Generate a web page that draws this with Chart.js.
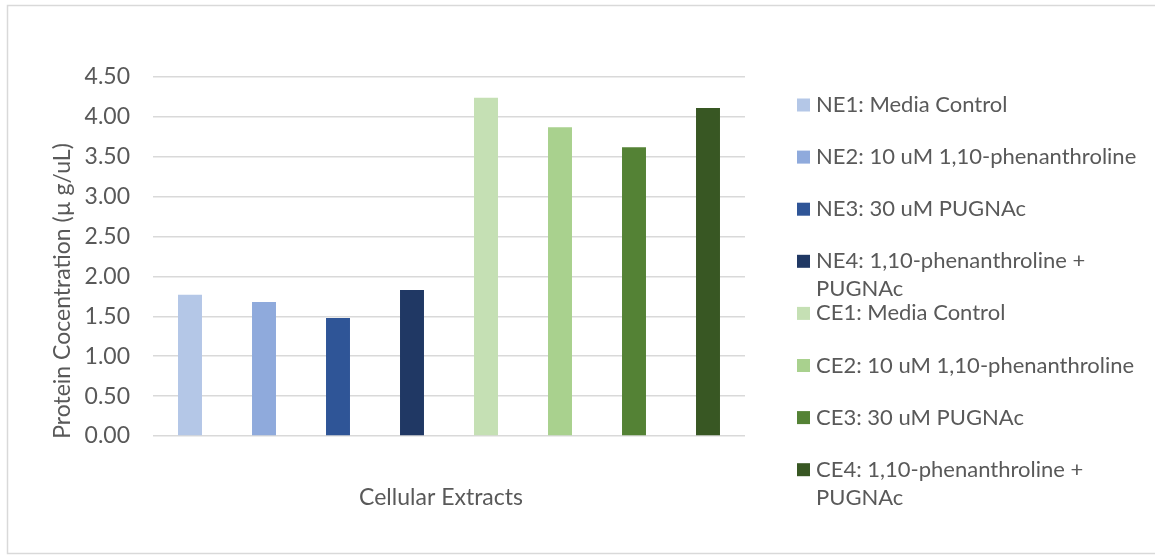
<!DOCTYPE html>
<html>
<head>
<meta charset="utf-8">
<title>Protein Concentration of Cellular Extracts</title>
<script src="https://cdn.jsdelivr.net/npm/chart.js@4.4.1/dist/chart.umd.min.js"></script>
<style>
  html, body { margin: 0; padding: 0; background: #ffffff; }
  #wrap { position: relative; width: 1155px; height: 555px; }
</style>
</head>
<body>
<div id="wrap"><canvas id="chart" width="1155" height="555"></canvas></div>
<script>
// Category and series
const categories = [''];
const seriesLabels = [
  'NE1: Media Control',
  'NE2: 10 uM 1,10-phenanthroline',
  'NE3: 30 uM PUGNAc',
  'NE4: 1,10-phenanthroline + PUGNAc',
  'CE1: Media Control',
  'CE2: 10 uM 1,10-phenanthroline',
  'CE3: 30 uM PUGNAc',
  'CE4: 1,10-phenanthroline + PUGNAc'
];
const seriesValues = [1.77, 1.68, 1.48, 1.83, 4.24, 3.87, 3.62, 4.11];
const seriesColors = ['#B4C7E7', '#8FAADC', '#2F5597', '#203864',
                      '#C5E0B4', '#A9D18E', '#548235', '#385723'];
const yTicks = [0, 0.5, 1, 1.5, 2, 2.5, 3, 3.5, 4, 4.5];
const yTitle = 'Protein Cocentration (\u00B5 g/uL)';
const xTitle = 'Cellular Extracts';

const FONT_FAMILY = 'Lato, "Open Sans", sans-serif';
const FONT_SIZE = 23;
const LEGEND_FONT_SIZE = 22;
const TEXT_COLOR = '#595959';
const GRID_COLOR = '#D9D9D9';

// Frame, axis titles and a wrapped legend drawn on the same canvas
const decorations = {
  id: 'decorations',
  afterDraw(chart) {
    const ctx = chart.ctx;
    const area = chart.chartArea;
    ctx.save();

    // outer frame
    ctx.strokeStyle = GRID_COLOR;
    ctx.lineWidth = 1.5;
    ctx.strokeRect(7.5, 5.5, 1160, 548);

    ctx.fillStyle = TEXT_COLOR;
    ctx.font = FONT_SIZE + 'px ' + FONT_FAMILY;
    ctx.textBaseline = 'middle';

    // x-axis title
    ctx.textAlign = 'center';
    ctx.fillText(xTitle, area.left + (area.right - area.left) / 2 - 8, 498);

    // y-axis title
    ctx.save();
    ctx.translate(63, 291);
    ctx.rotate(-Math.PI / 2);
    ctx.fillText(yTitle, 0, 0);
    ctx.restore();

    // legend
    ctx.font = LEGEND_FONT_SIZE + 'px ' + FONT_FAMILY;
    const boxX = 797, box = 13, textX = 816;
    const firstY = 105, rowStep = 52.1, lineH = 28, maxW = 336;
    ctx.textAlign = 'left';
    chart.data.datasets.forEach((ds, i) => {
      const y = firstY + i * rowStep;
      ctx.fillStyle = ds.backgroundColor;
      ctx.fillRect(boxX, y - box / 2, box, box);
      ctx.fillStyle = TEXT_COLOR;
      const words = ds.label.split(' ');
      const lines = [];
      let cur = '';
      words.forEach(w => {
        const test = cur ? cur + ' ' + w : w;
        if (ctx.measureText(test).width > maxW && cur) {
          lines.push(cur);
          cur = w;
        } else {
          cur = test;
        }
      });
      if (cur) lines.push(cur);
      lines.forEach((ln, k) => ctx.fillText(ln, textX, y + k * lineH));
    });

    ctx.restore();
  }
};

const datasets = seriesLabels.map((label, i) => ({
  label: label,
  data: [seriesValues[i]],
  backgroundColor: seriesColors[i],
  borderWidth: 0,
  categoryPercentage: 1.0,
  barPercentage: 0.324
}));

new Chart(document.getElementById('chart'), {
  type: 'bar',
  data: { labels: categories, datasets: datasets },
  options: {
    responsive: false,
    animation: false,
    devicePixelRatio: 1,
    layout: { padding: { left: 0, top: 77, right: 410, bottom: 119 } },
    plugins: {
      legend: { display: false },
      tooltip: { enabled: false },
      title: { display: false }
    },
    scales: {
      x: {
        grid: { display: false },
        border: { display: false },
        ticks: { display: false },
        afterFit(scale) { scale.height = 0; }
      },
      y: {
        min: 0,
        max: 4.5,
        afterBuildTicks(scale) { scale.ticks = yTicks.map(v => ({ value: v })); },
        afterFit(scale) { scale.width = 153; },
        grid: { color: GRID_COLOR, lineWidth: 1.5, drawTicks: false },
        border: { display: false },
        ticks: {
          padding: 23,
          color: TEXT_COLOR,
          font: { family: FONT_FAMILY, size: FONT_SIZE },
          callback: v => Number(v).toFixed(2)
        }
      }
    }
  },
  plugins: [decorations]
});
</script>
</body>
</html>
